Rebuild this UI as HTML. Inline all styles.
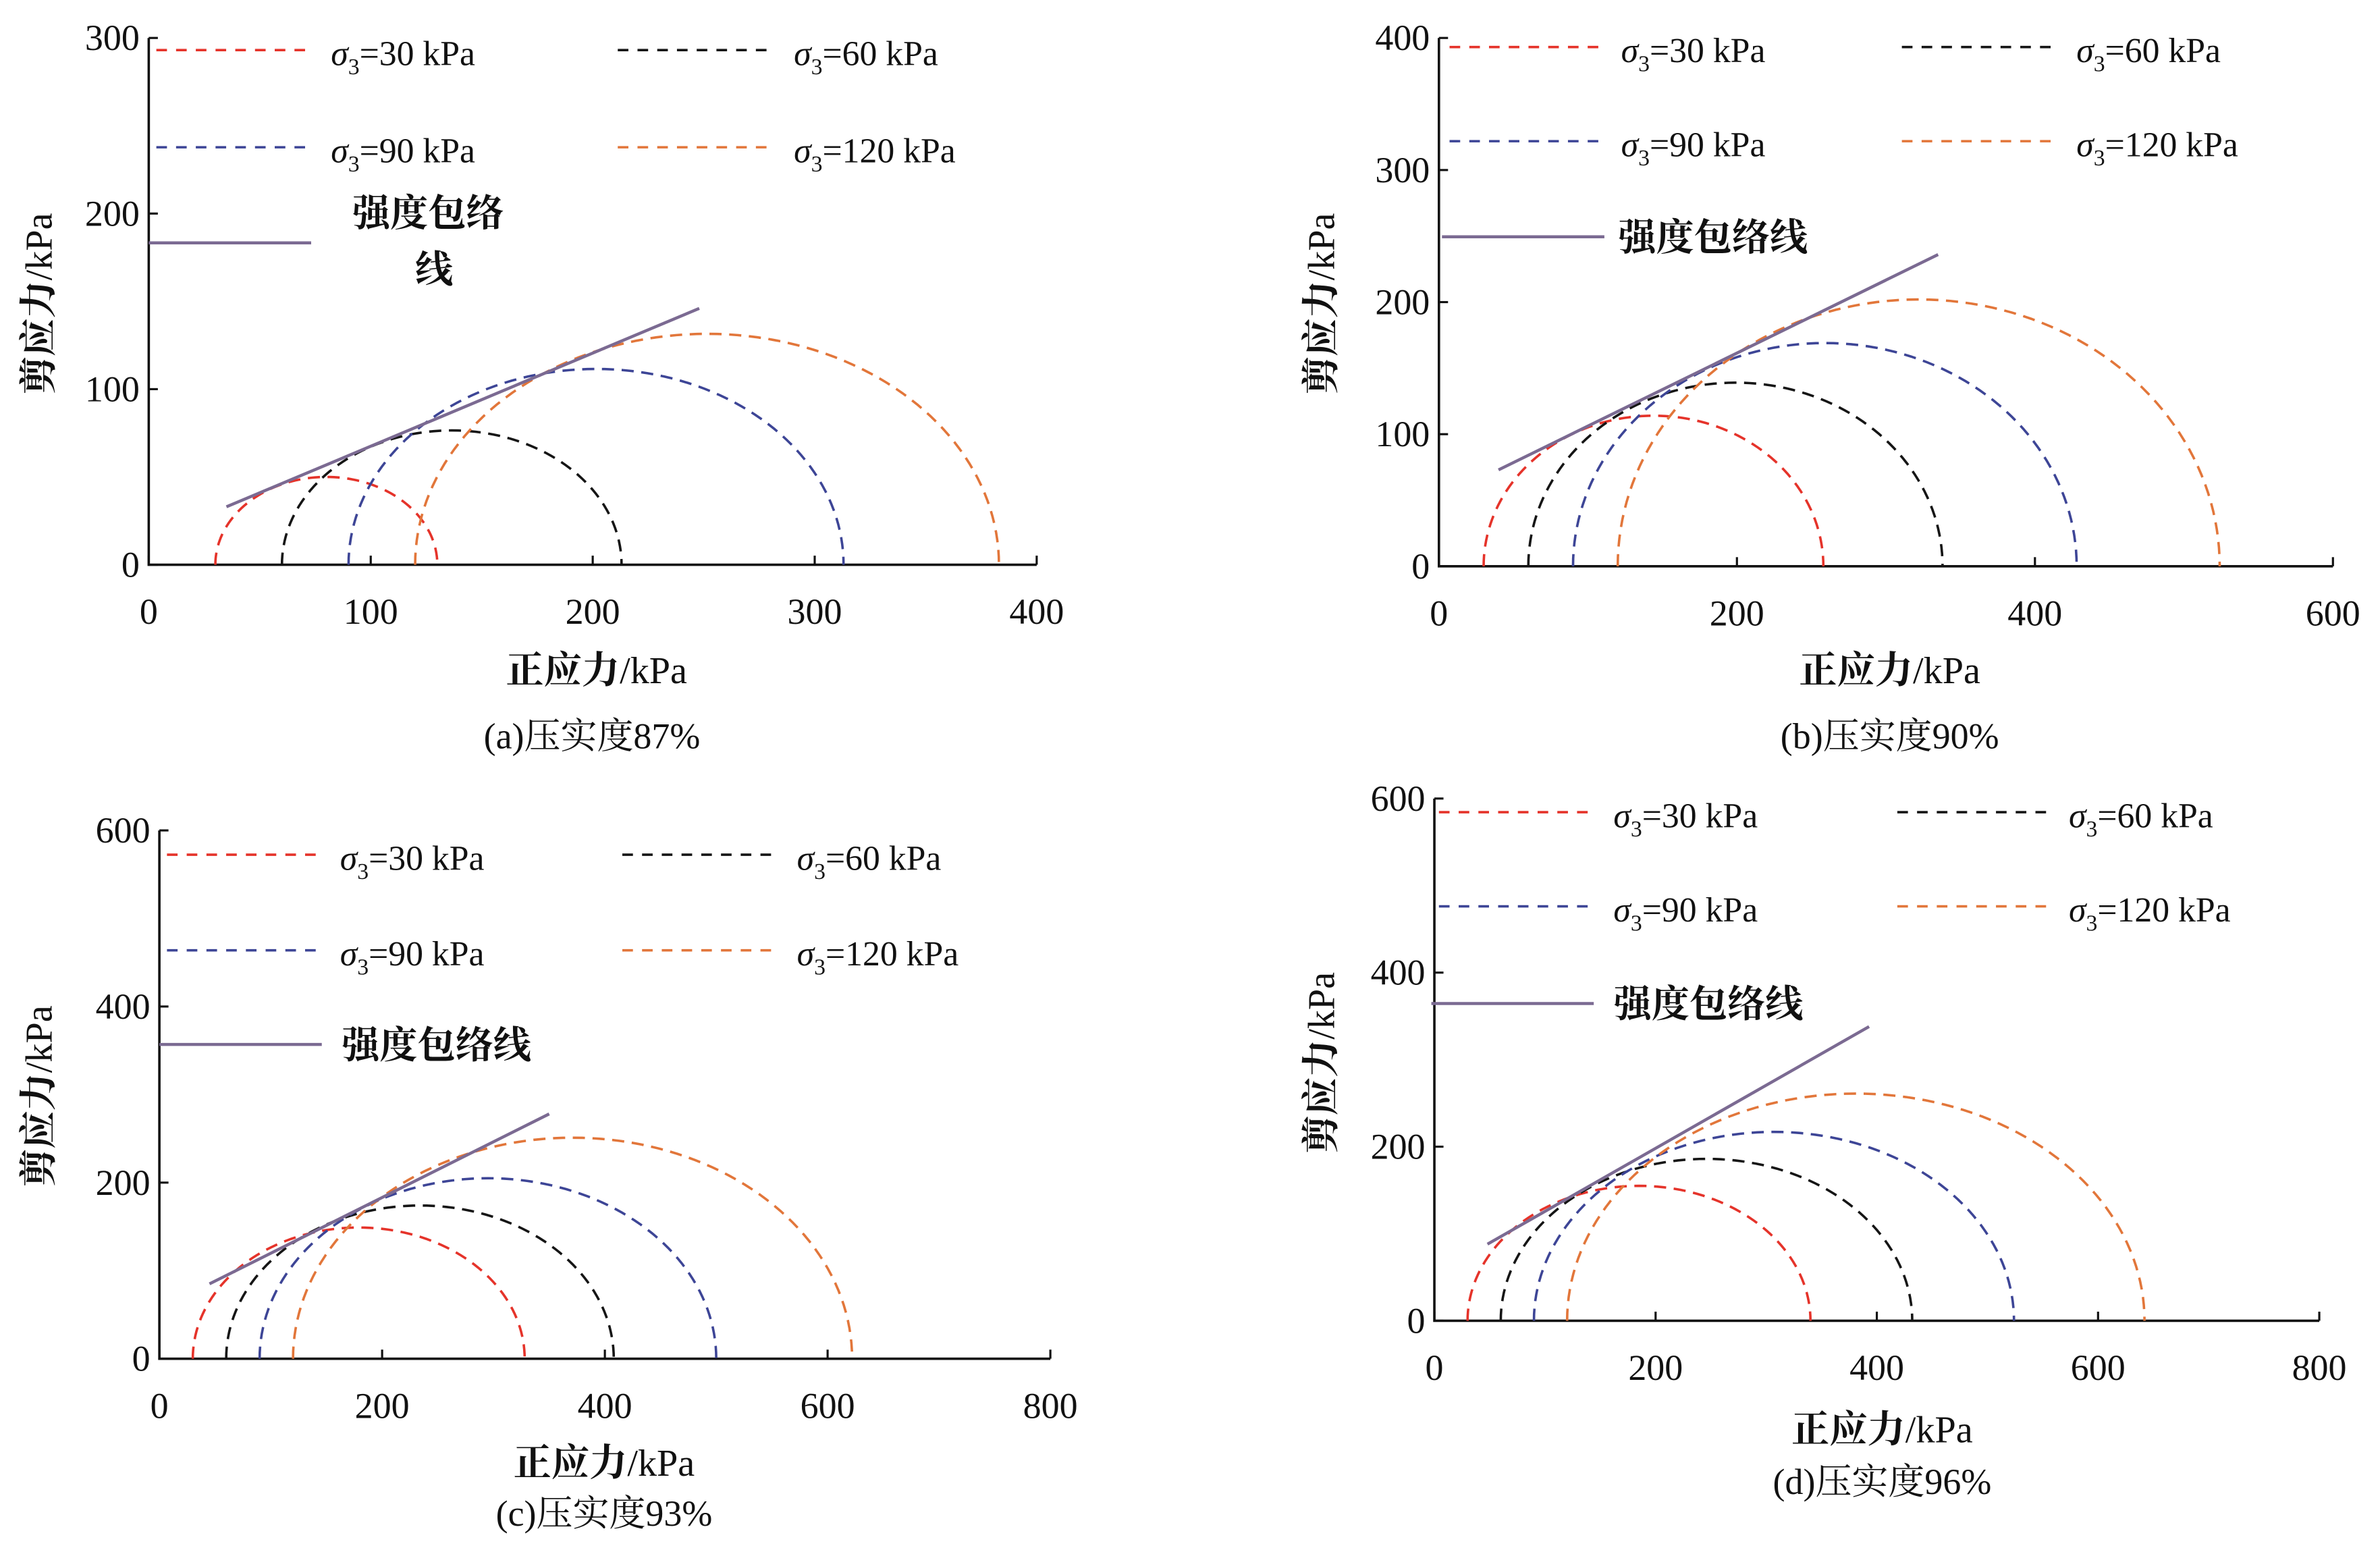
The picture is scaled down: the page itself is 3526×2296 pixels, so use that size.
<!DOCTYPE html>
<html><head><meta charset="utf-8"><style>
html,body{margin:0;padding:0;background:#fff;}
svg{display:block;}
text{font-family:"Liberation Serif","Noto Serif CJK SC","Noto Sans CJK SC",serif;fill:#111;}
</style></head><body>
<svg id="fig" width="3526" height="2296" viewBox="0 0 1568 1021" preserveAspectRatio="none" xmlns="http://www.w3.org/2000/svg"></svg>
<script>
// Data arrays
const panelIds = ['a','b','c','d'];
const sigma3 = [30, 60, 90, 120];
const sigma1A = [130, 213, 313, 383];
const sigma1B = [258, 338, 428, 524];
const sigma1C = [328, 408, 500, 622];
const sigma1D = [340, 432, 524, 642];
const envStartA = [35, 33], envEndA = [248, 146];
const envStartB = [40, 73], envEndB = [335, 236];
const envStartC = [45, 85], envEndC = [350, 278];
const envStartD = [48, 88], envEndD = [393, 338];
const xTicksA = [0,100,200,300,400], yTicksA = [0,100,200,300];
const xTicksB = [0,200,400,600], yTicksB = [0,100,200,300,400];
const xTicksC = [0,200,400,600,800], yTicksC = [0,200,400,600];
const xTicksD = [0,200,400,600,800], yTicksD = [0,200,400,600];
const captions = ['(a)压实度87%','(b)压实度90%','(c)压实度93%','(d)压实度96%'];
const seriesLabels = ['30','60','90','120'];
const colors = ['#e5332a','#151515','#3d4596','#e2763a'];
const envColor = '#7b6a92';

const NS='http://www.w3.org/2000/svg';
const svg=document.getElementById('fig');
function mk(tag,attrs,parent){const e=document.createElementNS(NS,tag);for(const k in attrs)e.setAttribute(k,attrs[k]);(parent||svg).appendChild(e);return e;}

const layouts=[
 {x0:98,x1:683,y0:372,y1:25,xmax:400,ymax:300,xt:xTicksA,yt:yTicksA,s1:sigma1A,es:envStartA,ee:envEndA,
  leg:{r1:33,r2:97,rp:160,l1:103,t1:218,l2:407,t2:523,tp:232,wrap:true},ylab:[25,200],xlab:[393,441],cap:[390,484]},
 {x0:948,x1:1537,y0:373,y1:25,xmax:600,ymax:400,xt:xTicksB,yt:yTicksB,s1:sigma1B,es:envStartB,ee:envEndB,
  leg:{r1:31,r2:93,rp:156,l1:955,t1:1068,l2:1253,t2:1368,tp:1066},ylab:[870,200],xlab:[1245,441],cap:[1245,484]},
 {x0:105,x1:692,y0:895,y1:547,xmax:800,ymax:600,xt:xTicksC,yt:yTicksC,s1:sigma1C,es:envStartC,ee:envEndC,
  leg:{r1:563,r2:626,rp:688,l1:110,t1:224,l2:410,t2:525,tp:225},ylab:[25,722],xlab:[398,963],cap:[398,996]},
 {x0:945,x1:1528,y0:870,y1:526,xmax:800,ymax:600,xt:xTicksD,yt:yTicksD,s1:sigma1D,es:envStartD,ee:envEndD,
  leg:{r1:535,r2:597,rp:661,l1:948,t1:1063,l2:1250,t2:1363,tp:1063},ylab:[870,700],xlab:[1240,941],cap:[1240,975]}
];

layouts.forEach((L,pi)=>{
 const g=mk('g',{});
 
 
 const X=v=>L.x0+(L.x1-L.x0)*v/L.xmax;
 const Y=v=>L.y0-(L.y0-L.y1)*v/L.ymax;
 const ax=mk('path',{d:`M${L.x0},${L.y1} V${L.y0} H${L.x1}`,stroke:'#111','stroke-width':1.6,fill:'none'},g);
 
 
 L.xt.forEach(t=>{
  mk('line',{x1:X(t),x2:X(t),y1:L.y0,y2:L.y0-6,stroke:'#111','stroke-width':1.4},g);
  const tx=mk('text',{x:X(t),y:L.y0+39,'font-size':24,'text-anchor':'middle'},g);
  tx.textContent=t;
  
  
 });
 L.yt.forEach(t=>{
  mk('line',{x1:L.x0,x2:L.x0+6,y1:Y(t),y2:Y(t),stroke:'#111','stroke-width':1.4},g);
  const tx=mk('text',{x:L.x0-6,y:Y(t)+8,'font-size':24,'text-anchor':'end'},g);
  tx.textContent=t;
  
  
 });
 sigma3.forEach((s3,i)=>{
  const s1=L.s1[i];const c=(s1+s3)/2,r=(s1-s3)/2;
  let d='';
  for(let k=0;k<=90;k++){const a=Math.PI*k/90;const px=X(c-r*Math.cos(a)),py=Y(r*Math.sin(a));d+=(k?'L':'M')+px.toFixed(2)+','+py.toFixed(2);}
  const p=mk('path',{d:d,stroke:colors[i],'stroke-width':1.6,fill:'none','stroke-dasharray':'8,5'},g);
  
  
 });
 const env=mk('line',{x1:X(L.es[0]),y1:Y(L.es[1]),x2:X(L.ee[0]),y2:Y(L.ee[1]),stroke:envColor,'stroke-width':2},g);
 
 
 const lg=L.leg;
 const rows=[[lg.r1,lg.l1,lg.t1,0],[lg.r1,lg.l2,lg.t2,1],[lg.r2,lg.l1,lg.t1,2],[lg.r2,lg.l2,lg.t2,3]];
 rows.forEach(([ry,lx,tx,i])=>{
  const ln=mk('line',{x1:lx,x2:lx+102,y1:ry,y2:ry,stroke:colors[i],'stroke-width':1.6,'stroke-dasharray':'7,6'},g);
  
  
  const t=mk('text',{x:tx,y:ry+10,'font-size':23},g);
  t.innerHTML='<tspan font-style="italic">σ</tspan><tspan font-size="15" dy="6">3</tspan><tspan dy="-6">='+seriesLabels[i]+' kPa</tspan>';
  
  
 });
 const pl=mk('line',{x1:lg.l1-5,x2:lg.l1+102,y1:lg.rp,y2:lg.rp,stroke:envColor,'stroke-width':2},g);
 
 
 if(lg.wrap){
  const t=mk('text',{x:lg.tp,y:lg.rp-11,'font-size':25,'font-weight':'bold'},g);t.textContent='强度包络';
  
  
  const t2=mk('text',{x:lg.tp+54,y:lg.rp+26,'font-size':25,'font-weight':'bold','text-anchor':'middle'},g);t2.textContent='线';
  
  
 }else{
  const t=mk('text',{x:lg.tp,y:lg.rp+9,'font-size':25,'font-weight':'bold'},g);t.textContent='强度包络线';
  
  
 }
 const yl=mk('text',{x:L.ylab[0],y:L.ylab[1],'font-size':25,'text-anchor':'middle',transform:`rotate(-90 ${L.ylab[0]} ${L.ylab[1]})`,dy:9},g);
 yl.innerHTML='<tspan font-weight="bold">剪应力</tspan>/kPa';
 
 
 const xl=mk('text',{x:L.xlab[0],y:L.xlab[1]+9,'font-size':25,'text-anchor':'middle'},g);
 xl.innerHTML='<tspan font-weight="bold">正应力</tspan>/kPa';
 
 
 const cp=mk('text',{x:L.cap[0],y:L.cap[1]+9,'font-size':24,'text-anchor':'middle'},g);
 cp.textContent=captions[pi];
 
 
});
</script>
</body></html>
